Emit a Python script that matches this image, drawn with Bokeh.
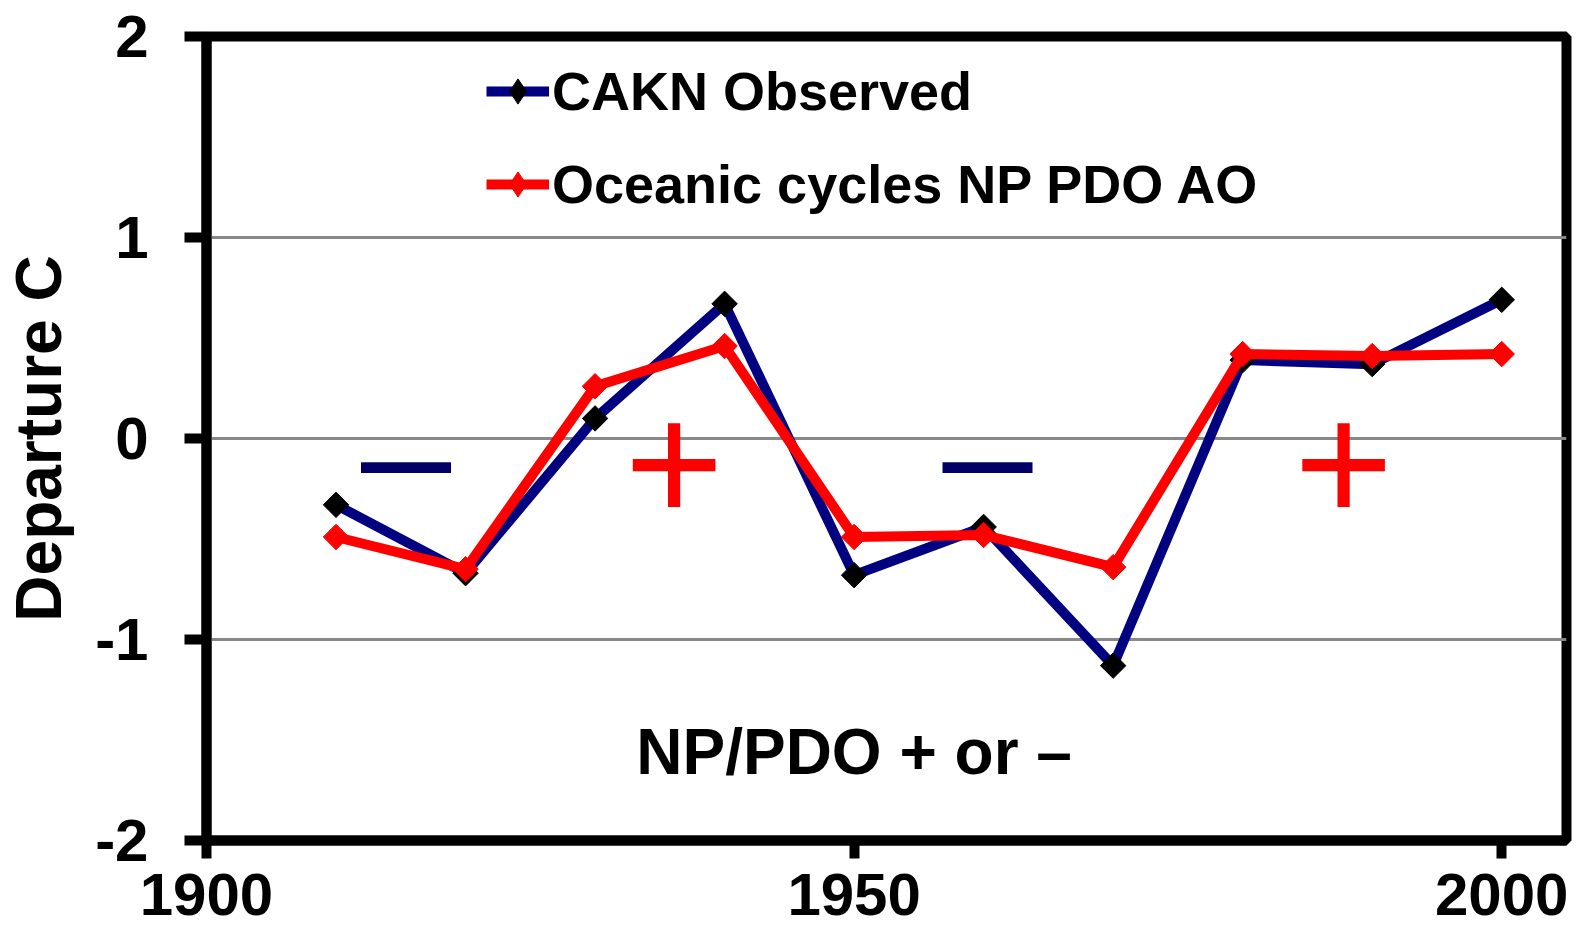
import math
from bokeh.plotting import figure
from bokeh.models import ColumnDataSource, FixedTicker, Legend, LegendItem, Range1d
from bokeh.core.properties import value
from bokeh.embed import file_html
from bokeh.resources import INLINE

# ---- data ----
years = [1910, 1920, 1930, 1940, 1950, 1960, 1970, 1980, 1990, 2000]
observed = [-0.33, -0.67, 0.10, 0.67, -0.68, -0.44, -1.13, 0.39, 0.37, 0.69]
oceanic = [-0.49, -0.65, 0.26, 0.46, -0.49, -0.48, -0.64, 0.42, 0.41, 0.42]
x_ticks = [1900, 1950, 2000]
y_ticks = [-2, -1, 0, 1, 2]
y_tick_labels = {-2: "-2", -1: "-1", 0: "0", 1: "1", 2: "2"}
series_names = ["CAKN Observed", "Oceanic cycles NP PDO AO"]
y_title = "Departure C"
note_text = ["NP/PDO + or –"]
note_x = [1950]
note_y = [-1.558]
sign_text = ["–", "+", "–", "+"]
sign_x = [1915.4, 1936.1, 1960.3, 1987.8]
sign_y = [-0.07, -0.12, -0.07, -0.12]
sign_color = ["#000066", "#FF0000", "#000066", "#FF0000"]
sign_size = ["162px", "170px", "162px", "170px"]

FONT = "Liberation Sans"

p = figure(width=1579, height=941, output_backend="svg", toolbar_location=None,
           x_range=Range1d(1900, 2005), y_range=Range1d(-2, 2),
           min_border_left=204, min_border_right=13, min_border_top=36,
           min_border_bottom=101, background_fill_color="white",
           border_fill_color="white")

p.outline_line_color = "black"
p.outline_line_width = 10
p.outline_line_alpha = 1.0

# grid
p.xgrid.visible = False
p.ygrid.ticker = FixedTicker(ticks=y_ticks)
p.ygrid.grid_line_color = "#888888"
p.ygrid.grid_line_width = 3

# axes
for ax in (p.xaxis[0], p.yaxis[0]):
    ax.axis_line_color = "black"
    ax.axis_line_width = 10
    ax.major_tick_line_color = "black"
    ax.major_tick_line_width = 10
    ax.major_tick_in = 0
    ax.minor_tick_line_color = None
    ax.major_label_text_font = FONT
    ax.major_label_text_font_style = "bold"
    ax.major_label_text_font_size = "60px"
    ax.major_label_text_color = "black"

p.xaxis.ticker = FixedTicker(ticks=x_ticks)
p.xaxis.major_tick_out = 18
p.xaxis.major_label_standoff = 15

p.yaxis.ticker = FixedTicker(ticks=y_ticks)
p.yaxis.major_label_overrides = y_tick_labels
p.yaxis.major_tick_out = 22
p.yaxis.major_label_standoff = 36
p.yaxis.axis_label = y_title
p.yaxis.axis_label_text_font = FONT
p.yaxis.axis_label_text_font_style = "bold"
p.yaxis.axis_label_text_font_size = "64px"
p.yaxis.axis_label_text_color = "black"
p.yaxis.axis_label_standoff = 17

# series
src = ColumnDataSource(dict(year=years, obs=observed, oce=oceanic))
r1 = p.line("year", "obs", source=src, line_color="#000080", line_width=10, line_join="round")
s1 = p.scatter("year", "obs", source=src, marker="square", angle=math.pi / 4, size=18,
               fill_color="black", line_color="black")
r2 = p.line("year", "oce", source=src, line_color="#FF0000", line_width=10, line_join="round")
s2 = p.scatter("year", "oce", source=src, marker="square", angle=math.pi / 4, size=18,
               fill_color="#FF0000", line_color="#FF0000")

# legend swatch markers: diamond glyphs shown only in the legend
k1 = p.scatter("year", "obs", source=src, marker="diamond",
               fill_color="black", line_color="black", visible=False)
k2 = p.scatter("year", "oce", source=src, marker="diamond",
               fill_color="#FF0000", line_color="#FF0000", visible=False)

# sign annotations
sign_src = ColumnDataSource(dict(x=sign_x, y=sign_y, t=sign_text, c=sign_color, s=sign_size))
p.text("x", "y", text="t", source=sign_src, text_color="c", text_font_size="s",
       text_font=value(FONT), text_align="center", text_baseline="alphabetic")

note_src = ColumnDataSource(dict(x=note_x, y=note_y, t=note_text))
p.text("x", "y", text="t", source=note_src, text_color="black", text_font_size="64px",
       text_font=value(FONT), text_font_style="bold", text_align="center",
       text_baseline="alphabetic")

legend = Legend(items=[LegendItem(label=series_names[0], renderers=[r1, k1]),
                       LegendItem(label=series_names[1], renderers=[r2, k2])],
                location=(280, 622), orientation="vertical", click_policy="none")
legend.glyph_width = 63
legend.glyph_height = 68
legend.label_standoff = 3
legend.spacing = 25
legend.padding = 0
legend.margin = 0
legend.border_line_alpha = 0
legend.background_fill_alpha = 0
legend.inactive_fill_alpha = 0
legend.label_text_font = FONT
legend.label_text_font_style = "bold"
legend.label_text_font_size = "54px"
legend.label_text_color = "black"
p.add_layout(legend)

open("out.html", "w").write(file_html(p, INLINE))
